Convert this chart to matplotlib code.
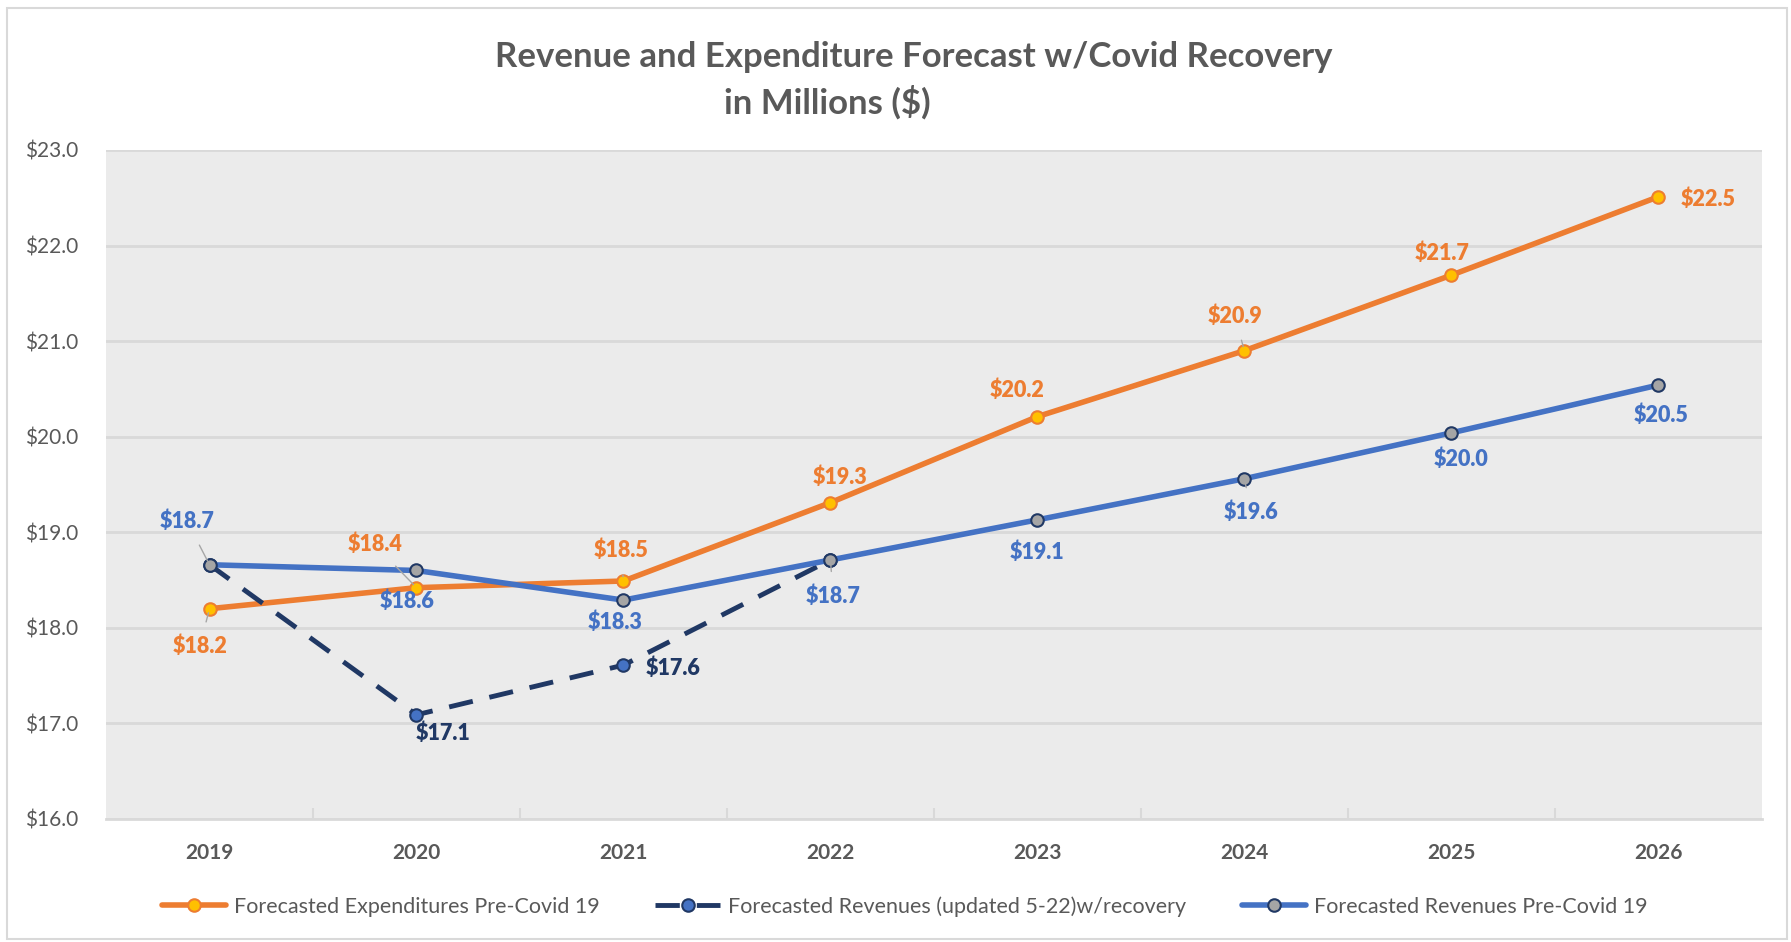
import numpy as np
import matplotlib.pyplot as plt
from matplotlib.patches import Rectangle

plt.rcParams['font.family'] = ['Lato', 'DejaVu Sans']

# datos
years = ['2019', '2020', '2021', '2022', '2023', '2024', '2025', '2026']
expenditures = [18.2, 18.42, 18.49, 19.31, 20.21, 20.9, 21.69, 22.51]
rev_covid = [18.66, 17.09, 17.61, 18.71]
rev_precovid = [18.66, 18.6, 18.29, 18.71, 19.13, 19.56, 20.04, 20.54]

names = ['Forecasted Expenditures Pre-Covid 19',
         'Forecasted Revenues (updated 5-22)w/recovery',
         'Forecasted Revenues Pre-Covid 19']

# desplazamientos de etiquetas (puntos)
off_exp = [(-7, -27), (-30, 31), (-2, 22), (7, 18), (-15, 19), (-7, 25), (-7, 16), (36, -2)]
off_pre = [(-16, 31), (-7, -22), (-6, -16), (2, -26), (0, -23), (5, -24), (7, -19), (2, -22)]
off_cov = [None, (19, -13), (36, -2), None]
lead_exp = [True, True, True, False, False, True, False, False]
lead_pre = [True, False, False, True, False, True, False, False]

orange = '#ED7D31'
blue = '#4472C4'
navy = '#203864'
gris = '#595959'

fig = plt.figure(figsize=(17.91, 9.42), dpi=100)
fig.patches.append(Rectangle((0.004, 0.003), 0.994, 0.988, transform=fig.transFigure,
                             fill=False, edgecolor='#D9D9D9', linewidth=1.5))
ax = fig.add_axes([0.0592, 0.1306, 0.9245, 0.7102])
ax.set_facecolor('#EBEBEB')

x = np.arange(len(years))
ax.plot(x, expenditures, color=orange, lw=4, marker='o', ms=9,
        mfc='#FFC000', mec=orange, mew=1.5, label=names[0], zorder=3,
        solid_capstyle='round')
ax.plot(x[:len(rev_covid)], rev_covid, color=navy, lw=3.5, ls=(0, (5, 3.5)),
        marker='o', ms=9, mfc=blue, mec=navy, mew=1.5, label=names[1], zorder=4)
ax.plot(x, rev_precovid, color=blue, lw=4, marker='o', ms=9,
        mfc='#A5A5A5', mec=navy, mew=1.5, label=names[2], zorder=5,
        solid_capstyle='round')

def etiquetas(vals, offs, color, leads=None):
    for i, v in enumerate(vals):
        if offs[i] is None:
            continue
        ap = None
        if leads is not None and leads[i]:
            ap = dict(arrowstyle='-', color='#A6A6A6', lw=1, shrinkA=8, shrinkB=3)
        ax.annotate('$%.1f' % v, (i, v), xytext=offs[i], textcoords='offset points',
                    ha='center', va='center', fontsize=15.5, fontweight='heavy',
                    color=color, arrowprops=ap, zorder=6)

etiquetas(expenditures, off_exp, orange, lead_exp)
etiquetas(rev_precovid, off_pre, blue, lead_pre)
etiquetas(rev_covid, off_cov, navy)

ax.set_xlim(-0.5, len(years) - 0.5)
ax.set_ylim(16, 23)
ax.set_yticks(np.arange(16, 23.5, 1))
ax.set_yticklabels(['$%.1f' % t for t in np.arange(16, 23.5, 1)])
ax.set_xticks(x)
ax.set_xticklabels(years, fontweight='bold')
ax.set_xticks(np.arange(0.5, len(years) - 0.5, 1), minor=True)

ax.grid(axis='y', color='#D9D9D9', lw=2)
ax.set_axisbelow(True)
for s in ['top', 'right', 'left']:
    ax.spines[s].set_visible(False)
ax.spines['bottom'].set_color('#D9D9D9')
ax.spines['bottom'].set_linewidth(2)
ax.tick_params(axis='y', length=0, pad=20, labelsize=15, labelcolor=gris)
ax.tick_params(axis='x', which='major', length=0, pad=17, labelsize=15, labelcolor=gris)
ax.tick_params(axis='x', which='minor', length=8, width=1.5, color='#D9D9D9', direction='in')

fig.text(0.510, 0.939, 'Revenue and Expenditure Forecast w/Covid Recovery',
         ha='center', va='center', fontsize=25, fontweight='bold', color=gris)
fig.text(0.462, 0.891, 'in Millions ($)',
         ha='center', va='center', fontsize=25, fontweight='bold', color=gris)

fig.legend(loc='center', bbox_to_anchor=(0.505, 0.038), ncol=3, frameon=False,
           fontsize=15.5, handlelength=3.0, handletextpad=0.35, columnspacing=2.6,
           labelcolor=gris)

plt.savefig('out.png', dpi=100)
